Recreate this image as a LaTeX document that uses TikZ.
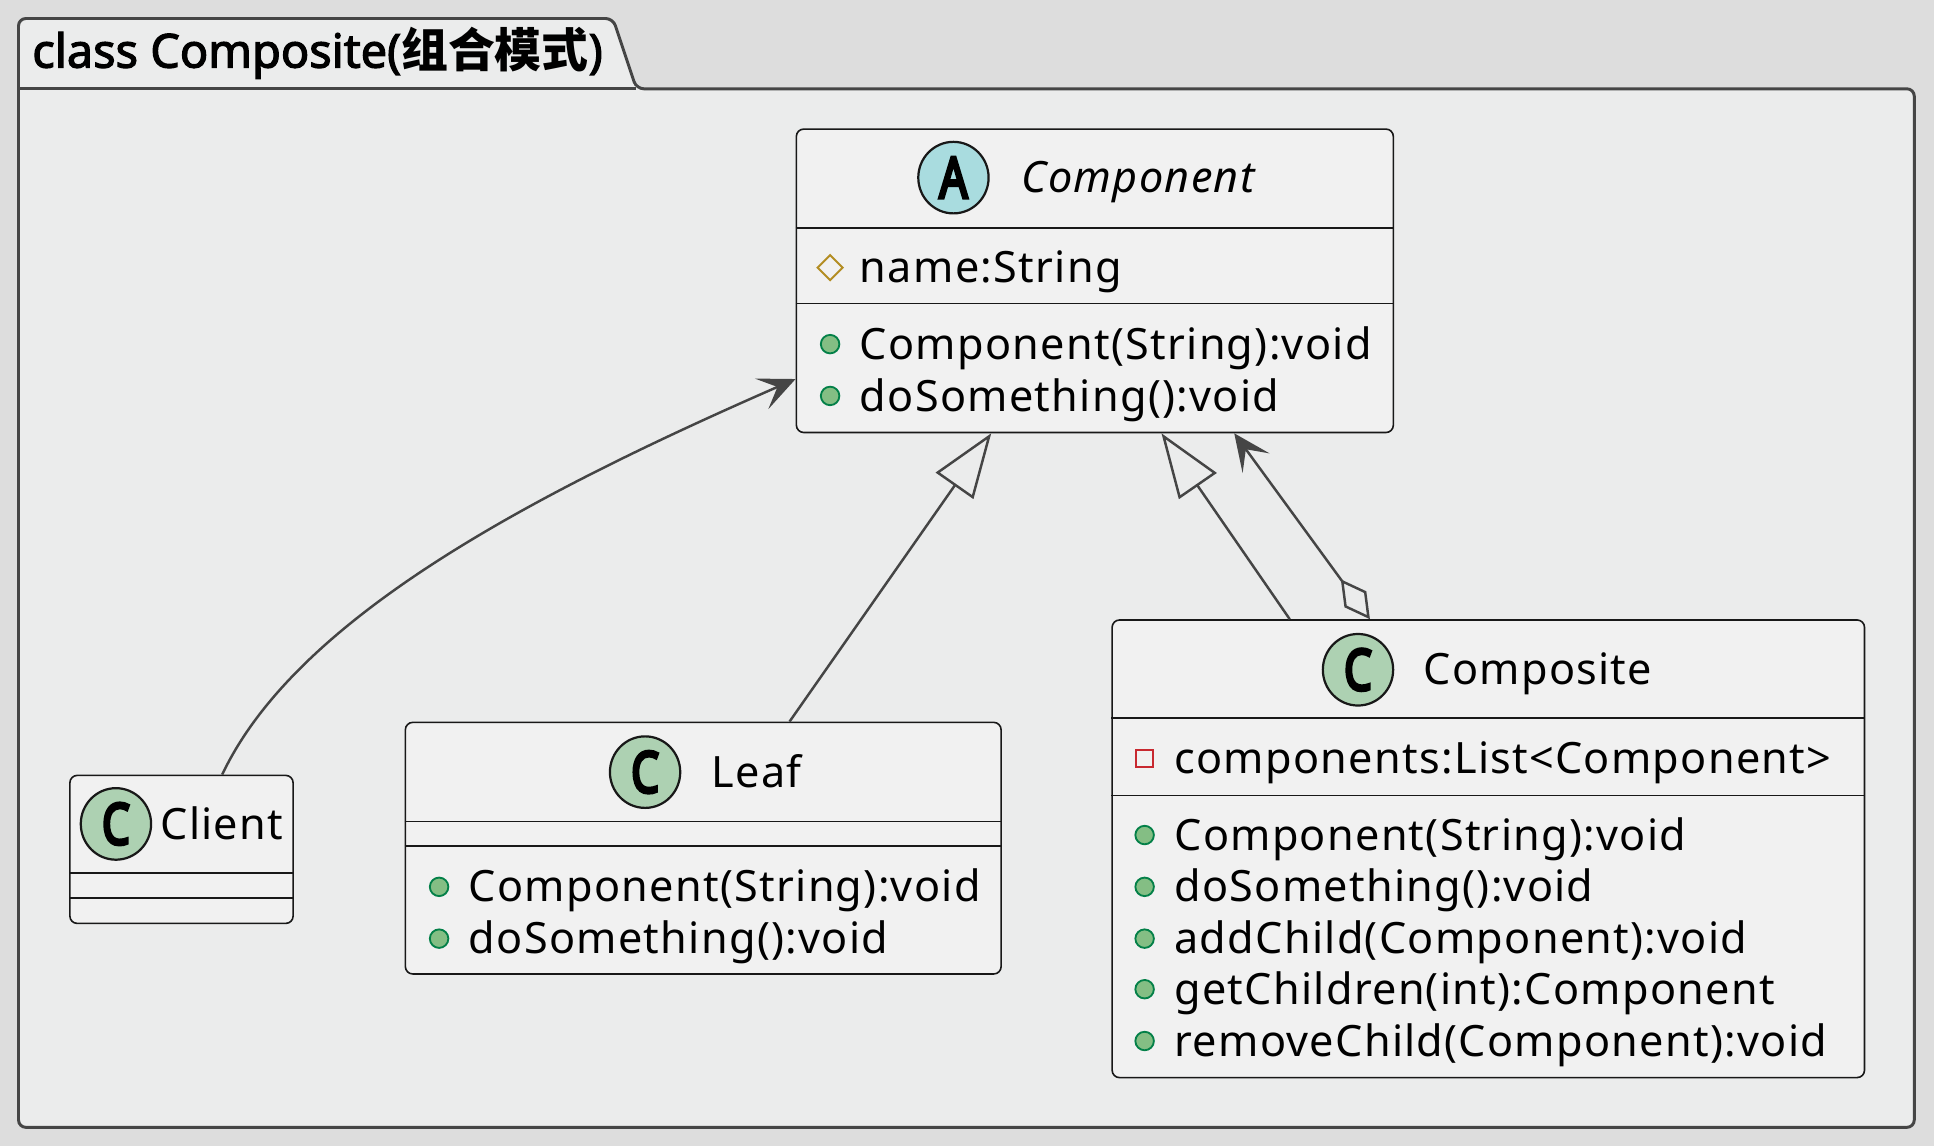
\documentclass[tikz,border=0pt]{standalone}
\usepackage{graphicx}
\usepackage{fontspec}
\setmainfont{Noto Sans}[LetterSpace=3.0]
\newfontfamily\ttlfont{Noto Sans}[FakeBold=2.5]
\newfontfamily\bdgfont{Noto Sans}[FakeBold=6]
\newfontfamily\cjk{Noto Sans CJK SC}
\usepackage{tikz}
\usetikzlibrary{arrows.meta}
\usetikzlibrary{shapes}
\usetikzlibrary{calc}
\usetikzlibrary{positioning}

\definecolor{bgc}{HTML}{DDDDDD}
\definecolor{pkgc}{HTML}{EBECEC}
\definecolor{clsc}{HTML}{F1F1F1}
\definecolor{linec}{HTML}{181818}
\definecolor{arrc}{HTML}{454545}
\definecolor{abc}{HTML}{A9DCDF}
\definecolor{ccc}{HTML}{ADD1B2}
\definecolor{pubf}{HTML}{84BE84}
\definecolor{pubd}{HTML}{038048}
\definecolor{protd}{HTML}{B38D22}
\definecolor{privd}{HTML}{C82930}

\begin{document}
\begin{tikzpicture}[x=1pt,y=-1pt]
        \tikzstyle{pkg}=[draw=arrc, fill=pkgc, line width=2.4pt, rounded corners=6pt]
        \tikzstyle{cls}=[rectangle, draw=linec, fill=clsc, line width=1.3pt, rounded corners=6pt, anchor=north west, inner sep=0]
        \tikzstyle{badge}=[ellipse, draw=linec, line width=1.8pt, minimum width=57pt, minimum height=58pt, inner sep=0, font=\fontsize{46}{46}\selectfont\bdgfont]
        \tikzstyle{txt}=[anchor=west, inner sep=0, text height=33pt, text depth=8.5pt, font=\fontsize{35}{40}\selectfont]
        \tikzstyle{sepl}=[draw=linec, line width=1.3pt]
        \tikzstyle{pub}=[circle, draw=pubd, fill=pubf, line width=1.5pt, minimum size=15pt, inner sep=0]
        \tikzstyle{prot}=[diamond, draw=protd, line width=1.6pt, minimum size=21pt, inner sep=0]
        \tikzstyle{priv}=[rectangle, draw=privd, line width=1.6pt, minimum size=14pt, inner sep=0]
        \tikzstyle{inh}=[draw=arrc, line width=2pt, -{Triangle[length=52pt, width=37pt, fill=pkgc]}]
        \tikzstyle{dep}=[draw=arrc, line width=2pt, -{Stealth[length=30pt, width=27pt, inset=14pt]}]
        \tikzstyle{agg}=[draw=arrc, line width=2pt, {Diamond[length=40pt, width=22pt, fill=pkgc]}-{Stealth[length=30pt, width=27pt, inset=14pt]}]

        \newcommand{\cbadge}[1]{\scalebox{0.78}[1]{#1}}

        \useasboundingbox (0,0) rectangle (1568,929);
        \fill[bgc] (0,0) rectangle (1568,929);

        % package frame with its tab
        \draw[pkg] (15,72) -- (15,15) -- (497,15) -- (516,72) -- (1552,72) -- (1552,914) -- (15,914) -- cycle;
        \draw[draw=arrc, line width=2.4pt] (15,72) -- (516,72);
        \node (pkgt) at (26,43) [anchor=west, inner sep=0, font=\fontsize{38}{38}\selectfont\ttlfont]{class Composite({\cjk\bfseries 组合模式})};

        % Component
        \node (cmp) at (645,104) [cls, minimum width=484pt, minimum height=246pt]{};
        \node (cmpb) at ($(cmp.north west)+(128,40)$) [badge, fill=abc]{\cbadge{A}};
        \node (cmpn) at ($(cmp.north west)+(183,40)$) [txt]{\itshape Component};
        \coordinate (cmps1) at ($(cmp.north west)+(0,81)$);
        \coordinate (cmps2) at ($(cmp.north west)+(0,142)$);
        \draw[sepl] (cmps1) -- (cmps1 -| cmp.east);
        \draw[sepl] (cmps2) -- (cmps2 -| cmp.east);
        \node (cmpi1) at ($(cmp.north west)+(28,113)$) [prot]{};
        \node (cmpa1) at ($(cmp.north west)+(52,113)$) [txt]{name:String};
        \node (cmpi2) at ($(cmp.north west)+(28,175)$) [pub]{};
        \node (cmpm1) at ($(cmp.north west)+(52,175)$) [txt]{Component(String):void};
        \node (cmpi3) at ($(cmp.north west)+(28,217)$) [pub]{};
        \node (cmpm2) at ($(cmp.north west)+(52,217)$) [txt]{doSomething():void};

        % Client
        \node (cl) at (56,628) [cls, minimum width=181pt, minimum height=120pt]{};
        \node (clb) at ($(cl.north west)+(38,40)$) [badge, fill=ccc]{\cbadge{C}};
        \node (cln) at ($(cl.north west)+(74,40)$) [txt]{Client};
        \coordinate (cls1) at ($(cl.north west)+(0,80)$);
        \coordinate (cls2) at ($(cl.north west)+(0,100)$);
        \draw[sepl] (cls1) -- (cls1 -| cl.east);
        \draw[sepl] (cls2) -- (cls2 -| cl.east);

        % Leaf
        \node (lf) at (328,585) [cls, minimum width=483pt, minimum height=204pt]{};
        \node (lfb) at ($(lf.north west)+(195,41)$) [badge, fill=ccc]{\cbadge{C}};
        \node (lfn) at ($(lf.north west)+(249,41)$) [txt]{Leaf};
        \coordinate (lfs1) at ($(lf.north west)+(0,81)$);
        \coordinate (lfs2) at ($(lf.north west)+(0,101)$);
        \draw[sepl] (lfs1) -- (lfs1 -| lf.east);
        \draw[sepl] (lfs2) -- (lfs2 -| lf.east);
        \node (lfi1) at ($(lf.north west)+(28,134)$) [pub]{};
        \node (lfm1) at ($(lf.north west)+(52,134)$) [txt]{Component(String):void};
        \node (lfi2) at ($(lf.north west)+(28,176)$) [pub]{};
        \node (lfm2) at ($(lf.north west)+(52,176)$) [txt]{doSomething():void};

        % Composite
        \node (cps) at (901,502) [cls, minimum width=610pt, minimum height=371pt]{};
        \node (cpsb) at ($(cps.north west)+(200,41)$) [badge, fill=ccc]{\cbadge{C}};
        \node (cpsn) at ($(cps.north west)+(253,41)$) [txt]{Composite};
        \coordinate (cpss1) at ($(cps.north west)+(0,80)$);
        \coordinate (cpss2) at ($(cps.north west)+(0,143)$);
        \draw[sepl] (cpss1) -- (cpss1 -| cps.east);
        \draw[sepl] (cpss2) -- (cpss2 -| cps.east);
        \node (cpsi0) at ($(cps.north west)+(27,113)$) [priv]{};
        \node (cpsa1) at ($(cps.north west)+(51,113)$) [txt]{components:List<Component>};
        \node (cpsi1) at ($(cps.north west)+(27,175)$) [pub]{};
        \node (cpsm1) at ($(cps.north west)+(51,175)$) [txt]{Component(String):void};
        \node (cpsi2) at ($(cps.north west)+(27,217)$) [pub]{};
        \node (cpsm2) at ($(cps.north west)+(51,217)$) [txt]{doSomething():void};
        \node (cpsi3) at ($(cps.north west)+(27,259)$) [pub]{};
        \node (cpsm3) at ($(cps.north west)+(51,259)$) [txt]{addChild(Component):void};
        \node (cpsi4) at ($(cps.north west)+(27,300)$) [pub]{};
        \node (cpsm4) at ($(cps.north west)+(51,300)$) [txt]{getChildren(int):Component};
        \node (cpsi5) at ($(cps.north west)+(27,342)$) [pub]{};
        \node (cpsm5) at ($(cps.north west)+(51,342)$) [txt]{removeChild(Component):void};

        % relations
        \draw[dep] ([xshift=33pt]cl.north) .. controls +(60,-127) and +(-215,94) .. ([yshift=44pt]cmp.south west);
        \draw[inh] ([xshift=70pt]lf.north) -- ([xshift=-84pt]cmp.south);
        \draw[inh] ([xshift=-161pt]cps.north) -- ([xshift=54pt]cmp.south);
        \draw[agg] ([xshift=-96pt]cps.north) -- ([xshift=113pt]cmp.south);

    \end{tikzpicture}
\end{document}
